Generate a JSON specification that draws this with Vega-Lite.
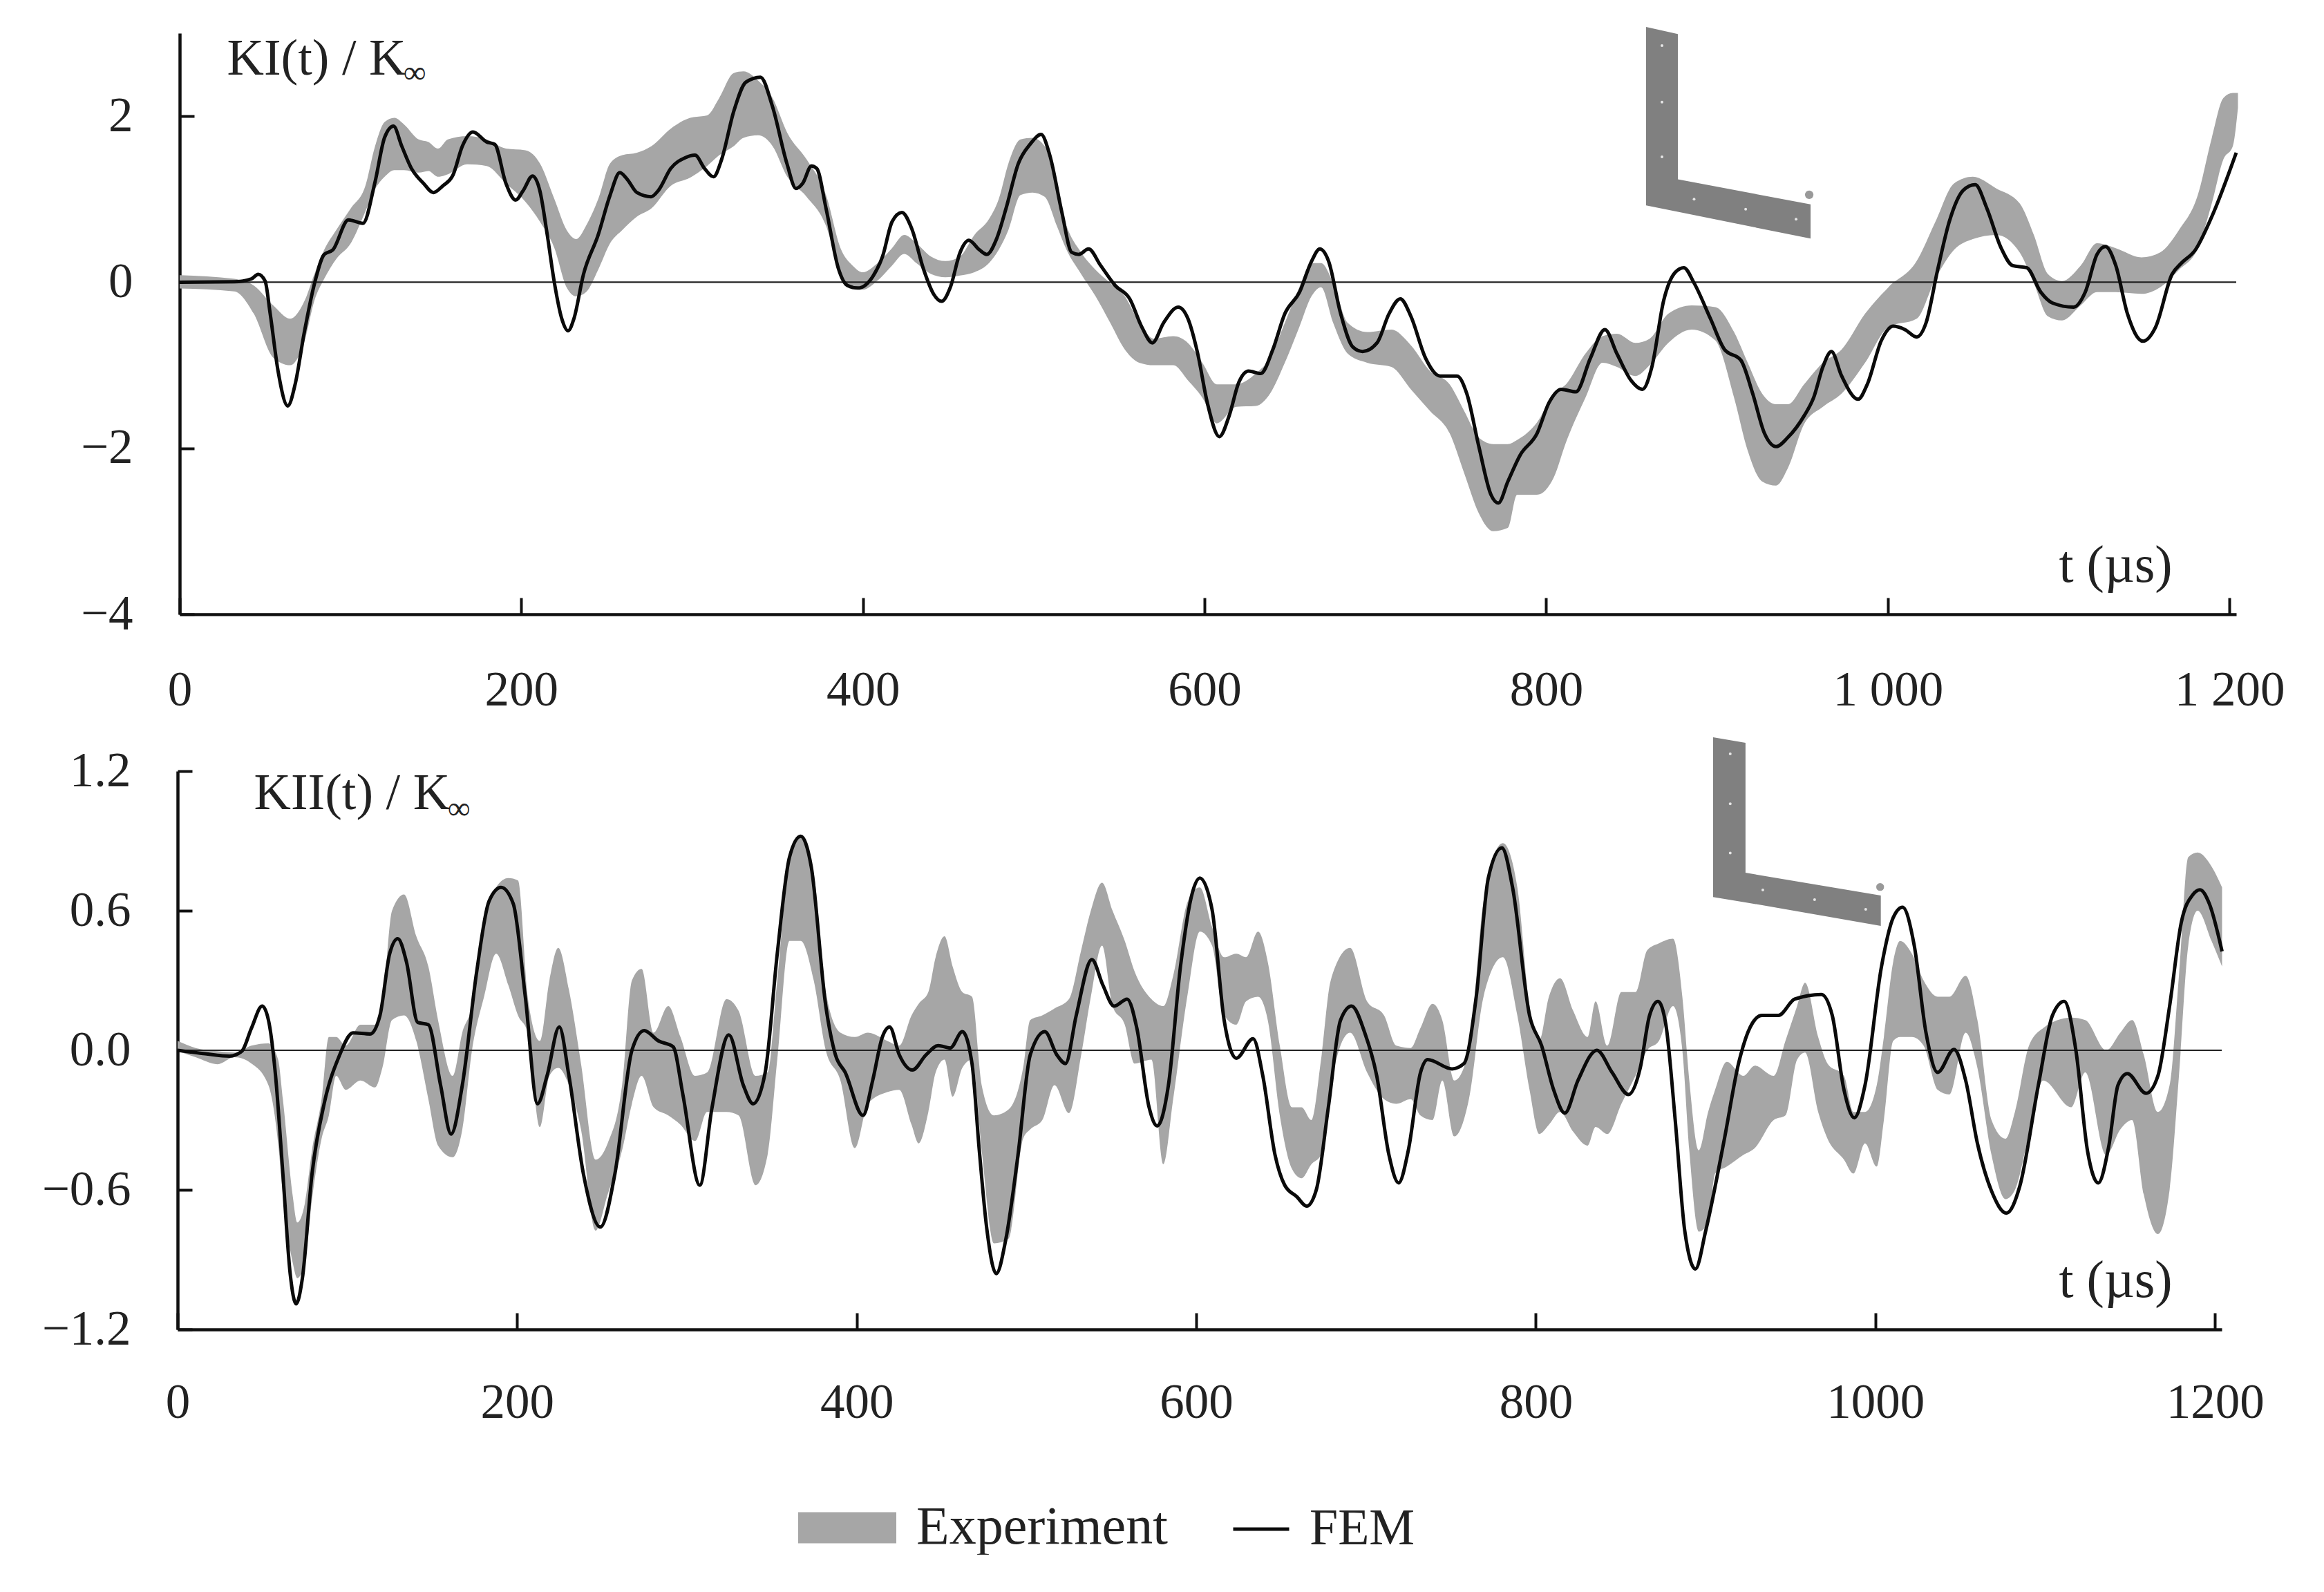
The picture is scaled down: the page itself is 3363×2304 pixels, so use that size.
{
"$schema":"https://vega.github.io/schema/vega-lite/v6.json",
"background":"white",
"padding":{"left":60,"top":38,"right":0,"bottom":0},
"spacing":33,
"config":{"view":{"stroke":null},"font":"Liberation Serif","text":{"font":"Liberation Serif"}},
"datasets":{
"ki_exp":[{"t":0,"lo":-0.075,"hi":0.085},{"t":32,"lo":-0.11,"hi":0.04},{"t":43.4,"lo":-0.38,"hi":-0.04},{"t":54.8,"lo":-0.91,"hi":-0.28},{"t":64.7,"lo":-1.0,"hi":-0.44},{"t":73.2,"lo":-0.7,"hi":-0.22},{"t":78.9,"lo":-0.22,"hi":0.1},{"t":84.6,"lo":0.04,"hi":0.39},{"t":91.7,"lo":0.28,"hi":0.63},{"t":100.2,"lo":0.47,"hi":0.89},{"t":108.7,"lo":0.85,"hi":1.16},{"t":114.4,"lo":1.12,"hi":1.64},{"t":120,"lo":1.27,"hi":1.93},{"t":125.7,"lo":1.35,"hi":1.98},{"t":131.4,"lo":1.35,"hi":1.9},{"t":139.9,"lo":1.32,"hi":1.72},{"t":145.6,"lo":1.34,"hi":1.69},{"t":151.3,"lo":1.27,"hi":1.61},{"t":157,"lo":1.3,"hi":1.72},{"t":168.3,"lo":1.42,"hi":1.76},{"t":179.7,"lo":1.4,"hi":1.72},{"t":191,"lo":1.19,"hi":1.61},{"t":202.4,"lo":0.97,"hi":1.59},{"t":210.9,"lo":0.73,"hi":1.43},{"t":219.4,"lo":0.41,"hi":1.0},{"t":226.5,"lo":-0.06,"hi":0.63},{"t":232.2,"lo":-0.17,"hi":0.52},{"t":237.9,"lo":-0.12,"hi":0.68},{"t":245,"lo":0.15,"hi":1.0},{"t":252,"lo":0.47,"hi":1.43},{"t":259.2,"lo":0.63,"hi":1.53},{"t":267.7,"lo":0.79,"hi":1.56},{"t":276.2,"lo":0.89,"hi":1.64},{"t":287.5,"lo":1.16,"hi":1.85},{"t":298.9,"lo":1.26,"hi":1.98},{"t":308.8,"lo":1.4,"hi":2.01},{"t":315.9,"lo":1.53,"hi":2.22},{"t":324.4,"lo":1.64,"hi":2.52},{"t":330.1,"lo":1.74,"hi":2.54},{"t":338.6,"lo":1.77,"hi":2.43},{"t":347.1,"lo":1.64,"hi":2.22},{"t":355.7,"lo":1.27,"hi":1.8},{"t":367,"lo":1.03,"hi":1.48},{"t":378.4,"lo":0.68,"hi":1.05},{"t":386.9,"lo":0.1,"hi":0.41},{"t":394,"lo":-0.07,"hi":0.2},{"t":400,"lo":-0.09,"hi":0.12},{"t":408.6,"lo":0.02,"hi":0.23},{"t":417,"lo":0.2,"hi":0.41},{"t":424.2,"lo":0.34,"hi":0.57},{"t":431.3,"lo":0.23,"hi":0.47},{"t":439.8,"lo":0.1,"hi":0.31},{"t":448.3,"lo":0.06,"hi":0.255},{"t":456.8,"lo":0.08,"hi":0.31},{"t":465.3,"lo":0.12,"hi":0.57},{"t":473.8,"lo":0.23,"hi":0.76},{"t":479.5,"lo":0.39,"hi":1.0},{"t":485.2,"lo":0.63,"hi":1.43},{"t":492.3,"lo":1.05,"hi":1.72},{"t":499.3,"lo":1.08,"hi":1.74},{"t":506.4,"lo":1.03,"hi":1.64},{"t":513.5,"lo":0.68,"hi":1.1},{"t":519.2,"lo":0.39,"hi":0.68},{"t":527.7,"lo":0.1,"hi":0.36},{"t":536.2,"lo":-0.17,"hi":0.15},{"t":544.8,"lo":-0.49,"hi":-0.01},{"t":553.3,"lo":-0.81,"hi":-0.17},{"t":561.8,"lo":-0.97,"hi":-0.49},{"t":570.3,"lo":-1.0,"hi":-0.68},{"t":581.7,"lo":-1.0,"hi":-0.65},{"t":590.2,"lo":-1.18,"hi":-0.73},{"t":598.7,"lo":-1.39,"hi":-0.97},{"t":607.2,"lo":-1.7,"hi":-1.23},{"t":618.6,"lo":-1.5,"hi":-1.23},{"t":630,"lo":-1.49,"hi":-1.1},{"t":638.4,"lo":-1.34,"hi":-0.91},{"t":647,"lo":-0.97,"hi":-0.49},{"t":655.5,"lo":-0.54,"hi":-0.06},{"t":662.6,"lo":-0.17,"hi":0.23},{"t":668.2,"lo":-0.06,"hi":0.23},{"t":675.3,"lo":-0.49,"hi":-0.01},{"t":683.8,"lo":-0.86,"hi":-0.49},{"t":695.2,"lo":-0.97,"hi":-0.6},{"t":709.4,"lo":-1.02,"hi":-0.57},{"t":720.8,"lo":-1.29,"hi":-0.76},{"t":732,"lo":-1.55,"hi":-1.07},{"t":743.5,"lo":-1.82,"hi":-1.23},{"t":752,"lo":-2.3,"hi":-1.55},{"t":760.5,"lo":-2.78,"hi":-1.87},{"t":769,"lo":-3.0,"hi":-1.95},{"t":777.5,"lo":-2.96,"hi":-1.95},{"t":783,"lo":-2.56,"hi":-1.9},{"t":794.6,"lo":-2.56,"hi":-1.69},{"t":804.5,"lo":-2.35,"hi":-1.34},{"t":811.6,"lo":-1.93,"hi":-1.23},{"t":823,"lo":-1.39,"hi":-0.86},{"t":833,"lo":-0.97,"hi":-0.65},{"t":841.4,"lo":-1.02,"hi":-0.62},{"t":852.3,"lo":-1.13,"hi":-0.73},{"t":860.6,"lo":-1.0,"hi":-0.68},{"t":871.5,"lo":-0.73,"hi":-0.38},{"t":885.2,"lo":-0.57,"hi":-0.28},{"t":899,"lo":-0.7,"hi":-0.3},{"t":910,"lo":-1.39,"hi":-0.6},{"t":918,"lo":-2.03,"hi":-0.97},{"t":926.4,"lo":-2.4,"hi":-1.34},{"t":934.6,"lo":-2.45,"hi":-1.47},{"t":941.5,"lo":-2.24,"hi":-1.47},{"t":951,"lo":-1.71,"hi":-1.23},{"t":962,"lo":-1.5,"hi":-0.97},{"t":973,"lo":-1.34,"hi":-0.81},{"t":986.7,"lo":-0.97,"hi":-0.38},{"t":1000.4,"lo":-0.54,"hi":-0.06},{"t":1016.9,"lo":-0.44,"hi":0.255},{"t":1027.9,"lo":0.04,"hi":0.73},{"t":1038.8,"lo":0.39,"hi":1.19},{"t":1049.8,"lo":0.52,"hi":1.27},{"t":1063.5,"lo":0.57,"hi":1.13},{"t":1077.2,"lo":0.36,"hi":0.95},{"t":1085.5,"lo":-0.01,"hi":0.57},{"t":1093.7,"lo":-0.41,"hi":0.1},{"t":1102,"lo":-0.46,"hi":0.015},{"t":1112.9,"lo":-0.28,"hi":0.2},{"t":1122.5,"lo":-0.12,"hi":0.47},{"t":1133.5,"lo":-0.12,"hi":0.41},{"t":1148.5,"lo":-0.14,"hi":0.3},{"t":1159.5,"lo":-0.06,"hi":0.36},{"t":1170.5,"lo":0.15,"hi":0.63},{"t":1181.5,"lo":0.41,"hi":1.05},{"t":1189.7,"lo":0.95,"hi":1.74},{"t":1196.5,"lo":1.48,"hi":2.22},{"t":1202,"lo":1.64,"hi":2.28},{"t":1205,"lo":2.1,"hi":2.28}],
"ki_fem":[{"t":0,"v":0},{"t":32,"v":0.005},{"t":42,"v":0.04},{"t":46,"v":0.095},{"t":50,"v":0.015},{"t":53,"v":-0.38},{"t":57.6,"v":-1.07},{"t":63.3,"v":-1.49},{"t":67.6,"v":-1.23},{"t":73,"v":-0.6},{"t":79,"v":-0.01},{"t":84.6,"v":0.335},{"t":89.7,"v":0.39},{"t":98.8,"v":0.75},{"t":107.3,"v":0.71},{"t":114.4,"v":1.21},{"t":120,"v":1.745},{"t":125.2,"v":1.88},{"t":130,"v":1.64},{"t":135.7,"v":1.37},{"t":142.8,"v":1.19},{"t":148.5,"v":1.08},{"t":154,"v":1.16},{"t":160,"v":1.29},{"t":165.5,"v":1.64},{"t":171.7,"v":1.81},{"t":179.7,"v":1.69},{"t":184.5,"v":1.66},{"t":191,"v":1.19},{"t":196.7,"v":0.99},{"t":201,"v":1.1},{"t":206.6,"v":1.28},{"t":210.9,"v":1.1},{"t":215.2,"v":0.57},{"t":219.4,"v":-0.01},{"t":223.7,"v":-0.44},{"t":227.4,"v":-0.585},{"t":230.8,"v":-0.44},{"t":236.4,"v":0.095},{"t":245,"v":0.57},{"t":252,"v":1.05},{"t":257.7,"v":1.32},{"t":262,"v":1.24},{"t":267.7,"v":1.08},{"t":276,"v":1.03},{"t":280.4,"v":1.11},{"t":287.5,"v":1.37},{"t":296,"v":1.5},{"t":301.7,"v":1.53},{"t":307.3,"v":1.37},{"t":312.5,"v":1.27},{"t":317.3,"v":1.48},{"t":324.4,"v":2.06},{"t":331.5,"v":2.41},{"t":340,"v":2.47},{"t":347,"v":2.12},{"t":355.5,"v":1.43},{"t":360.8,"v":1.13},{"t":364.7,"v":1.19},{"t":369.9,"v":1.4},{"t":373,"v":1.37},{"t":378.4,"v":0.89},{"t":385.5,"v":0.175},{"t":391,"v":-0.04},{"t":397,"v":-0.07},{"t":405.8,"v":0.07},{"t":411.5,"v":0.31},{"t":417.1,"v":0.73},{"t":422.8,"v":0.84},{"t":428.5,"v":0.65},{"t":435.6,"v":0.15},{"t":441.3,"v":-0.14},{"t":446,"v":-0.23},{"t":451.2,"v":-0.06},{"t":456.9,"v":0.36},{"t":462,"v":0.505},{"t":468.2,"v":0.39},{"t":472.5,"v":0.335},{"t":478.2,"v":0.52},{"t":483.8,"v":0.89},{"t":491,"v":1.43},{"t":498,"v":1.665},{"t":504.3,"v":1.78},{"t":509.4,"v":1.53},{"t":516.5,"v":0.84},{"t":522.2,"v":0.36},{"t":526.4,"v":0.335},{"t":532.1,"v":0.4},{"t":539.2,"v":0.2},{"t":547.7,"v":-0.04},{"t":556.2,"v":-0.2},{"t":563.3,"v":-0.54},{"t":569.5,"v":-0.73},{"t":576,"v":-0.49},{"t":584.6,"v":-0.3},{"t":590.3,"v":-0.44},{"t":596,"v":-0.86},{"t":601.6,"v":-1.45},{"t":608.7,"v":-1.86},{"t":614.4,"v":-1.61},{"t":620,"v":-1.21},{"t":625.8,"v":-1.07},{"t":632.9,"v":-1.1},{"t":640,"v":-0.81},{"t":647,"v":-0.38},{"t":655.6,"v":-0.12},{"t":662.7,"v":0.255},{"t":667.5,"v":0.4},{"t":672.6,"v":0.255},{"t":679.7,"v":-0.38},{"t":686.8,"v":-0.78},{"t":692.5,"v":-0.835},{"t":701,"v":-0.73},{"t":708,"v":-0.38},{"t":714.6,"v":-0.2},{"t":720.8,"v":-0.41},{"t":729.4,"v":-0.915},{"t":737.9,"v":-1.13},{"t":747.8,"v":-1.13},{"t":753.5,"v":-1.34},{"t":760.6,"v":-1.98},{"t":767.7,"v":-2.56},{"t":772,"v":-2.66},{"t":777.6,"v":-2.4},{"t":784.7,"v":-2.085},{"t":794.7,"v":-1.82},{"t":801.7,"v":-1.45},{"t":808.8,"v":-1.29},{"t":817.4,"v":-1.32},{"t":825.9,"v":-0.915},{"t":834.4,"v":-0.57},{"t":841.4,"v":-0.86},{"t":849.6,"v":-1.18},{"t":856.4,"v":-1.29},{"t":861.9,"v":-1.02},{"t":868.8,"v":-0.22},{"t":875.6,"v":0.12},{"t":880.6,"v":0.175},{"t":886.6,"v":-0.01},{"t":896.2,"v":-0.44},{"t":904.4,"v":-0.81},{"t":914,"v":-0.94},{"t":920.9,"v":-1.34},{"t":927.8,"v":-1.82},{"t":934.6,"v":-1.98},{"t":941.5,"v":-1.87},{"t":951,"v":-1.61},{"t":956.6,"v":-1.39},{"t":962,"v":-1.02},{"t":967,"v":-0.835},{"t":973,"v":-1.13},{"t":982.6,"v":-1.41},{"t":988,"v":-1.23},{"t":996.3,"v":-0.7},{"t":1003.2,"v":-0.53},{"t":1010,"v":-0.57},{"t":1016.9,"v":-0.66},{"t":1022.4,"v":-0.49},{"t":1029.2,"v":0.15},{"t":1036,"v":0.73},{"t":1044.3,"v":1.11},{"t":1051.2,"v":1.175},{"t":1058,"v":0.89},{"t":1066.3,"v":0.415},{"t":1073.1,"v":0.2},{"t":1081.3,"v":0.175},{"t":1089.6,"v":-0.12},{"t":1096.4,"v":-0.25},{"t":1108.8,"v":-0.3},{"t":1115.6,"v":-0.12},{"t":1122.5,"v":0.335},{"t":1127.4,"v":0.43},{"t":1133.5,"v":0.2},{"t":1140.3,"v":-0.38},{"t":1149.4,"v":-0.71},{"t":1156.8,"v":-0.54},{"t":1166.4,"v":0.095},{"t":1171.9,"v":0.23},{"t":1180.1,"v":0.39},{"t":1189.7,"v":0.79},{"t":1204,"v":1.56}],
"kii_exp":[{"t":0,"lo":-0.004,"hi":0.04},{"t":10.6,"lo":-0.03,"hi":0.01},{"t":23.5,"lo":-0.06,"hi":-0.004},{"t":33.5,"lo":-0.03,"hi":-0.01},{"t":43.5,"lo":-0.057,"hi":0.02},{"t":53.5,"lo":-0.15,"hi":0.03},{"t":59.2,"lo":-0.4,"hi":-0.04},{"t":62,"lo":-0.62,"hi":-0.21},{"t":67.7,"lo":-0.91,"hi":-0.62},{"t":70.5,"lo":-0.98,"hi":-0.74},{"t":74.9,"lo":-0.91,"hi":-0.66},{"t":79.2,"lo":-0.64,"hi":-0.43},{"t":84.8,"lo":-0.38,"hi":-0.21},{"t":89.1,"lo":-0.28,"hi":0.057},{"t":93.4,"lo":-0.11,"hi":0.057},{"t":99,"lo":-0.17,"hi":0.02},{"t":107.7,"lo":-0.13,"hi":0.11},{"t":116.3,"lo":-0.16,"hi":0.11},{"t":120.6,"lo":-0.076,"hi":0.19},{"t":126.3,"lo":0.13,"hi":0.6},{"t":133.4,"lo":0.15,"hi":0.67},{"t":140.6,"lo":0.04,"hi":0.49},{"t":147.7,"lo":-0.21,"hi":0.36},{"t":153.4,"lo":-0.41,"hi":0.13},{"t":162,"lo":-0.46,"hi":-0.11},{"t":167.7,"lo":-0.34,"hi":0.076},{"t":173.4,"lo":0,"hi":0.19},{"t":180.5,"lo":0.23,"hi":0.57},{"t":187.6,"lo":0.415,"hi":0.7},{"t":194.8,"lo":0.28,"hi":0.74},{"t":200.5,"lo":0.15,"hi":0.73},{"t":206.2,"lo":0.076,"hi":0.23},{"t":213.4,"lo":-0.33,"hi":0.04},{"t":219,"lo":-0.11,"hi":0.3},{"t":224.2,"lo":-0.076,"hi":0.44},{"t":230.5,"lo":-0.15,"hi":0.26},{"t":237.6,"lo":-0.34,"hi":-0.057},{"t":246.2,"lo":-0.775,"hi":-0.47},{"t":253.3,"lo":-0.62,"hi":-0.4},{"t":261.8,"lo":-0.43,"hi":-0.15},{"t":267.6,"lo":-0.23,"hi":0.3},{"t":273.3,"lo":-0.11,"hi":0.35},{"t":280.4,"lo":-0.245,"hi":0.076},{"t":289,"lo":-0.28,"hi":0.19},{"t":296.2,"lo":-0.32,"hi":0.057},{"t":304.8,"lo":-0.39,"hi":-0.11},{"t":311.9,"lo":-0.265,"hi":-0.095},{"t":323.3,"lo":-0.265,"hi":0.22},{"t":330.4,"lo":-0.28,"hi":0.17},{"t":340.4,"lo":-0.58,"hi":-0.11},{"t":347.5,"lo":-0.45,"hi":-0.095},{"t":353.2,"lo":-0.04,"hi":0.3},{"t":360.4,"lo":0.47,"hi":0.83},{"t":367,"lo":0.47,"hi":0.92},{"t":374.7,"lo":0.3,"hi":0.76},{"t":381.8,"lo":0,"hi":0.25},{"t":390.4,"lo":-0.13,"hi":0.076},{"t":398.9,"lo":-0.42,"hi":0.057},{"t":406.6,"lo":-0.23,"hi":0.076},{"t":418,"lo":-0.18,"hi":0.04},{"t":425,"lo":-0.17,"hi":0.02},{"t":432.3,"lo":-0.32,"hi":0.15},{"t":436.5,"lo":-0.4,"hi":0.2},{"t":442.2,"lo":-0.265,"hi":0.25},{"t":446.5,"lo":-0.095,"hi":0.4},{"t":451.7,"lo":-0.04,"hi":0.49},{"t":456.5,"lo":-0.2,"hi":0.36},{"t":462.2,"lo":-0.076,"hi":0.25},{"t":467.9,"lo":-0.04,"hi":0.23},{"t":473.6,"lo":-0.43,"hi":-0.15},{"t":480.8,"lo":-0.83,"hi":-0.28},{"t":489.4,"lo":-0.81,"hi":-0.255},{"t":498,"lo":-0.38,"hi":-0.076},{"t":502.2,"lo":-0.34,"hi":0.13},{"t":509.3,"lo":-0.3,"hi":0.15},{"t":516.5,"lo":-0.15,"hi":0.18},{"t":525,"lo":-0.27,"hi":0.22},{"t":532.2,"lo":-0.02,"hi":0.43},{"t":537.9,"lo":0.23,"hi":0.6},{"t":544.5,"lo":0.45,"hi":0.72},{"t":550.7,"lo":0.19,"hi":0.6},{"t":557.9,"lo":0.11,"hi":0.47},{"t":563.6,"lo":-0.057,"hi":0.34},{"t":573.6,"lo":-0.04,"hi":0.22},{"t":580.7,"lo":-0.49,"hi":0.19},{"t":586.4,"lo":-0.21,"hi":0.32},{"t":595,"lo":0.245,"hi":0.64},{"t":602.1,"lo":0.51,"hi":0.7},{"t":609.3,"lo":0.45,"hi":0.53},{"t":616.4,"lo":0.15,"hi":0.4},{"t":623.6,"lo":0.11,"hi":0.415},{"t":629.3,"lo":0.21,"hi":0.4},{"t":636.4,"lo":0.23,"hi":0.51},{"t":642.1,"lo":0.13,"hi":0.38},{"t":649.2,"lo":-0.28,"hi":0.02},{"t":656.4,"lo":-0.51,"hi":-0.245},{"t":662,"lo":-0.55,"hi":-0.245},{"t":667.8,"lo":-0.49,"hi":-0.3},{"t":673.5,"lo":-0.45,"hi":-0.04},{"t":679.2,"lo":-0.15,"hi":0.3},{"t":690.6,"lo":0.076,"hi":0.44},{"t":700.6,"lo":-0.095,"hi":0.21},{"t":710.6,"lo":-0.21,"hi":0.15},{"t":717.8,"lo":-0.23,"hi":0.02},{"t":726.3,"lo":-0.21,"hi":0.01},{"t":732,"lo":-0.28,"hi":0.095},{"t":739.2,"lo":-0.3,"hi":0.2},{"t":744.9,"lo":-0.13,"hi":0.13},{"t":752,"lo":-0.37,"hi":-0.13},{"t":760.6,"lo":-0.21,"hi":0},{"t":769.2,"lo":0.23,"hi":0.64},{"t":780.6,"lo":0.4,"hi":0.89},{"t":789.1,"lo":0.15,"hi":0.7},{"t":796.3,"lo":-0.17,"hi":0.19},{"t":802,"lo":-0.36,"hi":0.04},{"t":807.7,"lo":-0.32,"hi":0.23},{"t":814.3,"lo":-0.265,"hi":0.31},{"t":822,"lo":-0.35,"hi":0.17},{"t":830.5,"lo":-0.41,"hi":0.057},{"t":835.2,"lo":-0.33,"hi":0.21},{"t":842.1,"lo":-0.36,"hi":0.02},{"t":850.4,"lo":-0.23,"hi":0.25},{"t":858.7,"lo":-0.11,"hi":0.25},{"t":865.6,"lo":0,"hi":0.43},{"t":872.5,"lo":0.04,"hi":0.46},{"t":880.8,"lo":0.19,"hi":0.48},{"t":886.3,"lo":0,"hi":0.23},{"t":890.4,"lo":-0.43,"hi":-0.13},{"t":896,"lo":-0.78,"hi":-0.43},{"t":901.5,"lo":-0.74,"hi":-0.265},{"t":905.6,"lo":-0.53,"hi":-0.17},{"t":912.5,"lo":-0.5,"hi":-0.05},{"t":922.2,"lo":-0.45,"hi":-0.11},{"t":929,"lo":-0.42,"hi":-0.066},{"t":940.1,"lo":-0.3,"hi":-0.11},{"t":947,"lo":-0.28,"hi":0.04},{"t":953.9,"lo":-0.04,"hi":0.19},{"t":958.6,"lo":-0.01,"hi":0.29},{"t":966.3,"lo":-0.265,"hi":0.057},{"t":971.8,"lo":-0.38,"hi":-0.057},{"t":981.5,"lo":-0.47,"hi":-0.11},{"t":987,"lo":-0.53,"hi":-0.265},{"t":993.9,"lo":-0.4,"hi":-0.265},{"t":1000.8,"lo":-0.5,"hi":-0.15},{"t":1005,"lo":-0.3,"hi":0.057},{"t":1010.5,"lo":0.04,"hi":0.38},{"t":1014.6,"lo":0.057,"hi":0.47},{"t":1021.5,"lo":0.057,"hi":0.415},{"t":1028.4,"lo":0.02,"hi":0.3},{"t":1036.7,"lo":-0.17,"hi":0.23},{"t":1043.6,"lo":-0.19,"hi":0.23},{"t":1053.2,"lo":0.076,"hi":0.32},{"t":1060.1,"lo":-0.076,"hi":0.13},{"t":1068.4,"lo":-0.45,"hi":-0.3},{"t":1076.7,"lo":-0.64,"hi":-0.38},{"t":1082.2,"lo":-0.6,"hi":-0.265},{"t":1090.5,"lo":-0.36,"hi":0.02},{"t":1098.8,"lo":-0.13,"hi":0.095},{"t":1115.3,"lo":-0.245,"hi":0.14},{"t":1123.6,"lo":-0.095,"hi":0.13},{"t":1136,"lo":-0.45,"hi":0},{"t":1144.3,"lo":-0.34,"hi":0.076},{"t":1151.2,"lo":-0.3,"hi":0.13},{"t":1158.1,"lo":-0.62,"hi":-0.02},{"t":1166.4,"lo":-0.79,"hi":-0.265},{"t":1173.3,"lo":-0.6,"hi":-0.15},{"t":1178.8,"lo":-0.11,"hi":0.32},{"t":1184.3,"lo":0.45,"hi":0.83},{"t":1189.8,"lo":0.6,"hi":0.85},{"t":1198,"lo":0.47,"hi":0.79},{"t":1204.2,"lo":0.36,"hi":0.7}],
"kii_fem":[{"t":0,"v":0},{"t":16.3,"v":-0.015},{"t":30.6,"v":-0.025},{"t":37.8,"v":-0.004},{"t":43.5,"v":0.095},{"t":49.8,"v":0.19},{"t":53.5,"v":0.13},{"t":57.7,"v":-0.11},{"t":62,"v":-0.53},{"t":66.3,"v":-0.96},{"t":69.8,"v":-1.09},{"t":73.5,"v":-0.98},{"t":79.2,"v":-0.53},{"t":86.3,"v":-0.23},{"t":94.9,"v":-0.03},{"t":103.4,"v":0.075},{"t":113.4,"v":0.07},{"t":119.2,"v":0.15},{"t":124.9,"v":0.415},{"t":129.7,"v":0.48},{"t":134.8,"v":0.38},{"t":141.4,"v":0.12},{"t":147.7,"v":0.11},{"t":154.9,"v":-0.15},{"t":161.1,"v":-0.36},{"t":167.7,"v":-0.15},{"t":176.2,"v":0.34},{"t":183.4,"v":0.64},{"t":190.5,"v":0.7},{"t":197.7,"v":0.63},{"t":204.8,"v":0.23},{"t":212,"v":-0.23},{"t":217.6,"v":-0.11},{"t":224.8,"v":0.1},{"t":230.5,"v":-0.11},{"t":239,"v":-0.53},{"t":249,"v":-0.76},{"t":257.6,"v":-0.53},{"t":267.6,"v":0},{"t":274.8,"v":0.085},{"t":283.3,"v":0.04},{"t":291.9,"v":0.015},{"t":297.6,"v":-0.19},{"t":307.6,"v":-0.58},{"t":314.7,"v":-0.25},{"t":324.7,"v":0.066},{"t":333.2,"v":-0.15},{"t":339,"v":-0.23},{"t":346.1,"v":-0.095},{"t":353.2,"v":0.415},{"t":360.4,"v":0.83},{"t":367,"v":0.92},{"t":373.2,"v":0.79},{"t":381.8,"v":0.19},{"t":387.5,"v":-0.02},{"t":393.2,"v":-0.095},{"t":403.7,"v":-0.28},{"t":409.4,"v":-0.13},{"t":415.1,"v":0.057},{"t":419.4,"v":0.1},{"t":425.1,"v":-0.02},{"t":432.8,"v":-0.085},{"t":440.8,"v":-0.02},{"t":448,"v":0.02},{"t":455.1,"v":0.01},{"t":462.2,"v":0.08},{"t":467.9,"v":-0.057},{"t":472.2,"v":-0.43},{"t":476.5,"v":-0.76},{"t":482.2,"v":-0.96},{"t":487.9,"v":-0.81},{"t":495,"v":-0.45},{"t":502.2,"v":-0.02},{"t":510.8,"v":0.08},{"t":517.9,"v":-0.02},{"t":523,"v":-0.057},{"t":529.3,"v":0.15},{"t":538.5,"v":0.39},{"t":545,"v":0.28},{"t":551.6,"v":0.19},{"t":559.3,"v":0.22},{"t":565,"v":0.095},{"t":572.2,"v":-0.245},{"t":577,"v":-0.325},{"t":583.6,"v":-0.15},{"t":590.7,"v":0.36},{"t":597.8,"v":0.68},{"t":602.1,"v":0.74},{"t":609.3,"v":0.605},{"t":616.4,"v":0.13},{"t":623.6,"v":-0.034},{"t":633.5,"v":0.05},{"t":639.2,"v":-0.11},{"t":646.4,"v":-0.45},{"t":652.1,"v":-0.58},{"t":659.3,"v":-0.63},{"t":665,"v":-0.67},{"t":670.7,"v":-0.6},{"t":677.8,"v":-0.245},{"t":685,"v":0.13},{"t":691.5,"v":0.19},{"t":699.2,"v":0.076},{"t":706.3,"v":-0.11},{"t":713.5,"v":-0.45},{"t":719.2,"v":-0.57},{"t":724.9,"v":-0.43},{"t":732.1,"v":-0.095},{"t":736.3,"v":-0.04},{"t":750.6,"v":-0.08},{"t":757.7,"v":-0.057},{"t":764.9,"v":0.23},{"t":772,"v":0.74},{"t":780,"v":0.87},{"t":786.3,"v":0.7},{"t":796.3,"v":0.15},{"t":803.4,"v":0.02},{"t":810.5,"v":-0.17},{"t":817.1,"v":-0.27},{"t":824.8,"v":-0.13},{"t":836,"v":0},{"t":844.9,"v":-0.095},{"t":854.6,"v":-0.19},{"t":861.5,"v":-0.076},{"t":867,"v":0.15},{"t":872,"v":0.21},{"t":876.6,"v":0.11},{"t":882.1,"v":-0.3},{"t":887.7,"v":-0.775},{"t":894,"v":-0.94},{"t":900.1,"v":-0.775},{"t":911.1,"v":-0.38},{"t":919.4,"v":-0.057},{"t":926.3,"v":0.1},{"t":933.2,"v":0.15},{"t":942.9,"v":0.15},{"t":952.5,"v":0.22},{"t":968.2,"v":0.24},{"t":974.6,"v":0.15},{"t":981.5,"v":-0.17},{"t":987.6,"v":-0.29},{"t":993.9,"v":-0.15},{"t":1003.6,"v":0.36},{"t":1010.5,"v":0.57},{"t":1016,"v":0.615},{"t":1022.9,"v":0.45},{"t":1029.8,"v":0.076},{"t":1036.7,"v":-0.095},{"t":1046.3,"v":0.004},{"t":1053.2,"v":-0.13},{"t":1060.1,"v":-0.4},{"t":1068.4,"v":-0.605},{"t":1077.2,"v":-0.7},{"t":1085,"v":-0.586},{"t":1096,"v":-0.15},{"t":1104.3,"v":0.15},{"t":1111.2,"v":0.21},{"t":1118.1,"v":0},{"t":1125,"v":-0.435},{"t":1131.3,"v":-0.57},{"t":1137.4,"v":-0.415},{"t":1142.9,"v":-0.15},{"t":1148.4,"v":-0.1},{"t":1159.5,"v":-0.185},{"t":1166.4,"v":-0.11},{"t":1173.3,"v":0.19},{"t":1180.2,"v":0.55},{"t":1187.1,"v":0.67},{"t":1191.2,"v":0.69},{"t":1196.7,"v":0.63},{"t":1204.2,"v":0.425}]
},
"vconcat":[
{"width":2979,"height":841,
"layer":[
{"data":{"name":"ki_exp"},"mark":{"type":"area","interpolate":"monotone","fill":"#a6a6a6"},
"encoding":{"x":{"field":"t","type":"quantitative","scale":{"domain":[0,1204],"range":[3,2979],"nice":false,"zero":false},
"axis":{"values":[0,200,400,600,800,1000,1200],"grid":false,"tickSize":-24,"tickWidth":4,"tickColor":"#111111","domainWidth":4.5,"domainColor":"#111111","labelFont":"Liberation Serif","labelFontSize":71,"labelColor":"#222222","labelPadding":99,"labelFlush":false,"labelExpr":"replace(format(datum.value,','),',',' ')","title":"t (µs)","titleFont":"Liberation Serif","titleFontSize":76,"titleFontWeight":"normal","titleColor":"#222222","titleAnchor":null,"titleAlign":"center","titleBaseline":"alphabetic","titleX":2804,"titleY":-48}},
"y":{"field":"hi","type":"quantitative","scale":{"domain":[-4,3],"nice":false,"zero":false},
"axis":{"values":[-4,-2,0,2],"format":"d","offset":-3,"grid":false,"tickSize":-21,"tickWidth":4,"tickColor":"#111111","domainWidth":4.5,"domainColor":"#111111","labelFont":"Liberation Serif","labelFontSize":71,"labelColor":"#222222","labelPadding":89,"title":"KI(t) / K","titleFont":"Liberation Serif","titleFontSize":74,"titleFontWeight":"normal","titleColor":"#222222","titleAngle":0,"titleAlign":"left","titleBaseline":"alphabetic","titleX":68,"titleY":59}},
"y2":{"field":"lo"}}},
{"data":{"values":[{"t0":0,"t1":1204,"v":0}]},"mark":{"type":"rule","stroke":"#222222","strokeWidth":2.2},
"encoding":{"x":{"field":"t0","type":"quantitative"},"x2":{"field":"t1"},"y":{"field":"v","type":"quantitative"}}},
{"data":{"name":"ki_fem"},"mark":{"type":"line","interpolate":"monotone","stroke":"#0a0a0a","strokeWidth":5},
"encoding":{"x":{"field":"t","type":"quantitative"},"y":{"field":"v","type":"quantitative"}}},
{"data":{"values":[{"t":858.5,"hi":3.075,"lo":0.925},{"t":877.1,"hi":2.99,"lo":0.8475},{"t":877.11,"hi":1.24,"lo":0.8475},{"t":954.8,"hi":0.9375,"lo":0.525}]},"mark":{"type":"area","fill":"#808080"},
"encoding":{"x":{"field":"t","type":"quantitative"},"y":{"field":"hi","type":"quantitative"},"y2":{"field":"lo"}}},
{"data":{"values":[{"t":867.8,"v":2.85},{"t":867.8,"v":2.17},{"t":867.8,"v":1.51},{"t":886.6,"v":1.0},{"t":916.8,"v":0.8792},{"t":946.3,"v":0.7583}]},"mark":{"type":"point","filled":true,"fill":"#e6e6e6","opacity":1,"size":16},
"encoding":{"x":{"field":"t","type":"quantitative"},"y":{"field":"v","type":"quantitative"}}},
{"data":{"values":[{"t":954,"v":1.054}]},"mark":{"type":"point","filled":true,"fill":"#999999","opacity":1,"size":150},
"encoding":{"x":{"field":"t","type":"quantitative"},"y":{"field":"v","type":"quantitative"}}},
{"data":{"values":[{"t":131,"v":2.52,"label":"∞"}]},"mark":{"type":"text","font":"Liberation Serif","fontSize":46,"align":"left","baseline":"middle","fill":"#222222"},
"encoding":{"x":{"field":"t","type":"quantitative"},"y":{"field":"v","type":"quantitative"},"text":{"field":"label"}}}
]},
{"width":2958,"height":808,
"layer":[
{"data":{"name":"kii_exp"},"mark":{"type":"area","interpolate":"monotone"},
"encoding":{"x":{"field":"t","type":"quantitative","scale":{"domain":[0,1204],"nice":false,"zero":false},
"axis":{"values":[0,200,400,600,800,1000,1200],"format":"d","grid":false,"tickSize":-24,"tickWidth":4,"tickColor":"#111111","domainWidth":4.5,"domainColor":"#111111","labelFont":"Liberation Serif","labelFontSize":71,"labelColor":"#222222","labelPadding":95,"labelFlush":false,"title":"t (µs)","titleFont":"Liberation Serif","titleFontSize":76,"titleFontWeight":"normal","titleColor":"#222222","titleAnchor":null,"titleAlign":"center","titleBaseline":"alphabetic","titleX":2804,"titleY":-48}},
"y":{"field":"hi","type":"quantitative","scale":{"domain":[-1.2,1.2],"nice":false,"zero":false},
"axis":{"values":[-1.2,-0.6,0,0.6,1.2],"format":".1f","grid":false,"tickSize":-21,"tickWidth":4,"tickColor":"#111111","domainWidth":4.5,"domainColor":"#111111","labelFont":"Liberation Serif","labelFontSize":71,"labelColor":"#222222","labelPadding":89,"title":"KII(t) / K","titleFont":"Liberation Serif","titleFontSize":74,"titleFontWeight":"normal","titleColor":"#222222","titleAngle":0,"titleAlign":"left","titleBaseline":"alphabetic","titleX":110,"titleY":54}},
"y2":{"field":"lo"},
"fill":{"datum":"Experiment","type":"nominal","scale":{"domain":["Experiment"],"range":["#a6a6a6"]},
"legend":{"orient":"none","legendX":898,"legendY":2092,"title":null,"symbolType":"M-1,-0.317H1V0.317H-1Z","symbolSize":20164,"symbolStrokeWidth":0,"labelFont":"Liberation Serif","labelFontSize":78,"labelColor":"#222222","labelOffset":29,"labelLimit":0}}}},
{"data":{"values":[{"t0":0,"t1":1204,"v":0}]},"mark":{"type":"rule","stroke":"#222222","strokeWidth":2.2},
"encoding":{"x":{"field":"t0","type":"quantitative"},"x2":{"field":"t1"},"y":{"field":"v","type":"quantitative"}}},
{"data":{"name":"kii_fem"},"mark":{"type":"line","interpolate":"monotone","strokeWidth":5},
"encoding":{"x":{"field":"t","type":"quantitative"},"y":{"field":"v","type":"quantitative"},
"stroke":{"datum":"FEM","type":"nominal","scale":{"domain":["FEM"],"range":["#0a0a0a"]},
"legend":{"orient":"none","legendX":1525,"legendY":2122,"title":null,"symbolType":"stroke","symbolSize":6561,"symbolStrokeWidth":5,"labelFont":"Liberation Serif","labelFontSize":74,"labelColor":"#222222","labelOffset":27,"labelLimit":0}}}},
{"data":{"values":[{"t":904.4,"hi":1.3455,"lo":0.659},{"t":923.5,"hi":1.322,"lo":0.636},{"t":923.51,"hi":0.763,"lo":0.636},{"t":1003.2,"hi":0.665,"lo":0.535}]},"mark":{"type":"area","fill":"#808080"},
"encoding":{"x":{"field":"t","type":"quantitative"},"y":{"field":"hi","type":"quantitative"},"y2":{"field":"lo"}}},
{"data":{"values":[{"t":914.5,"v":1.274},{"t":914.5,"v":1.06},{"t":914.5,"v":0.848},{"t":933.7,"v":0.689},{"t":964.2,"v":0.6475},{"t":994.3,"v":0.606}]},"mark":{"type":"point","filled":true,"fill":"#e6e6e6","opacity":1,"size":16},
"encoding":{"x":{"field":"t","type":"quantitative"},"y":{"field":"v","type":"quantitative"}}},
{"data":{"values":[{"t":1002.8,"v":0.702}]},"mark":{"type":"point","filled":true,"fill":"#999999","opacity":1,"size":130},
"encoding":{"x":{"field":"t","type":"quantitative"},"y":{"field":"v","type":"quantitative"}}},
{"data":{"values":[{"t":159,"v":1.037,"label":"∞"}]},"mark":{"type":"text","font":"Liberation Serif","fontSize":46,"align":"left","baseline":"middle","fill":"#222222"},
"encoding":{"x":{"field":"t","type":"quantitative"},"y":{"field":"v","type":"quantitative"},"text":{"field":"label"}}}
]}
]
}
